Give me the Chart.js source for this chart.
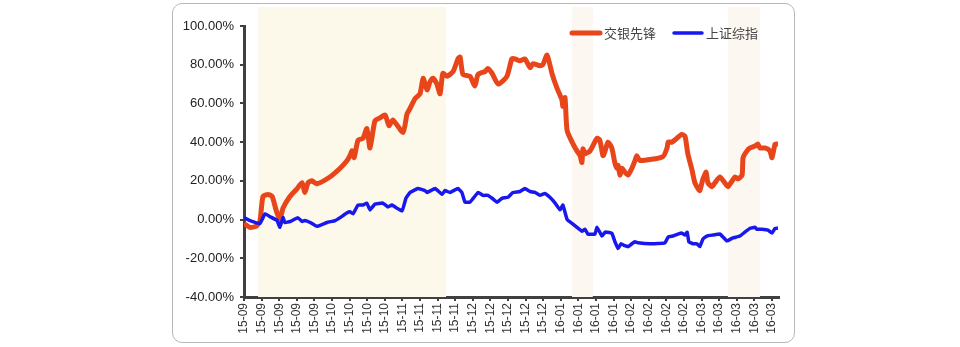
<!DOCTYPE html>
<html>
<head>
<meta charset="utf-8">
<script src="https://cdn.jsdelivr.net/npm/chart.js@4/dist/chart.umd.min.js"></script>
<style>
    html, body { margin: 0; padding: 0; background: #fff; }
    #wrap { position: relative; width: 960px; height: 347px; }
    #card {
        position: absolute; left: 172px; top: 3px; width: 621px; height: 338px;
        border: 1px solid #b8b8b8; border-radius: 10px; background: #fff;
    }
    #chart { position: absolute; left: 0; top: 0; }
</style>
</head>
<body>
<div id="wrap">
    <div id="card"></div>
    <canvas id="chart" width="960" height="347"></canvas>
</div>
<script>
// x is counted in trading days from the first day; a label every 5 days
const tickLabels = ['15-09', '15-09', '15-09', '15-09', '15-09',
    '15-10', '15-10', '15-10', '15-10',
    '15-11', '15-11', '15-11', '15-11',
    '15-12', '15-12', '15-12', '15-12', '15-12',
    '16-01', '16-01', '16-01', '16-01',
    '16-02', '16-02', '16-02', '16-02',
    '16-03', '16-03', '16-03', '16-03', '16-03']
const seriesNames = ['交银先锋', '上证综指']

const fundDays = [0, 1.7, 3.4, 4.5, 5.4, 6.8, 8.0, 9.1, 10.2, 11.1, 13.1, 15.1, 16.5, 17.3, 18.2, 19.3, 20.7, 24.4,
    27.3, 29.3, 30.1, 30.7, 31.3, 32.4, 33.8, 34.9, 35.8, 37.2, 38.6, 40.1, 41.2, 42.3, 45.2, 46.3, 47.2, 48.6,
    50.0, 50.9, 52.0, 52.8, 53.7, 54.8, 55.7, 56.5, 57.7, 59.4, 60.8, 61.4, 62.2, 64.2, 65.6, 66.5, 68.5, 69.3,
    70.5, 72.2, 74.7, 76.1, 77.0, 78.4, 79.8, 81.3, 82.1, 84.1, 84.9, 86.1, 87.5, 88.9, 90.3, 90.6, 91.2, 91.8,
    93.5, 94.6, 95.5, 96.0, 96.3, 96.9, 98.3, 100.3, 101.1, 102.0, 102.6, 103.4, 104.5, 105.4, 106.0, 106.3,
    106.8, 107.4, 108.2, 109.1, 110.2, 111.1, 111.6, 112.5, 119.0, 120.2, 120.5, 121.6, 123.0, 124.4, 125.3,
    126.1, 127.3, 128.1, 129.0, 129.5, 130.4, 131.3, 131.8, 133.0, 133.8, 135.2, 136.6, 137.5, 139.5, 140.3,
    141.5, 141.8, 142.9, 143.8, 145.2, 146.0, 146.6, 148.0, 149.4, 150.0, 150.9, 151.7]
const fundValues = [-2, -4, -3.5, -1, 12, 13, 12, 5, 0, 6, 12, 16, 19, 14, 19, 20, 18.5, 22,
    26.5, 30.5, 33, 35.5, 32, 41, 42, 47, 37, 51, 52.5, 54, 48.5, 51.5, 45, 54.5, 57.5, 62.5,
    65, 73, 67, 71, 73, 70, 65, 75.5, 74, 76.5, 83, 84, 75, 74, 69, 75, 76.5, 78,
    75.5, 70, 74, 83, 83, 82, 83, 78.5, 80.5, 79.5, 80, 85, 75.5, 68, 62, 58.5, 63, 46,
    39, 35.5, 33, 29.5, 36.5, 34, 35.5, 42, 41, 33, 35.5, 40, 37, 29, 26.5, 28,
    23, 26.5, 24.5, 23, 26.5, 30.5, 33, 30.5, 32.5, 37, 40, 40, 42, 44, 43,
    34, 25.5, 19, 16, 15, 21, 24.5, 19, 17, 19, 22, 19, 17, 22, 21,
    23, 32, 35.5, 37, 38, 39, 37, 37, 35.5, 32, 39, 39]

const indexDays = [0, 1.7, 4.5, 6.0, 7.4, 9.4, 10.2, 11.1, 11.6, 13.1, 15.3, 16.5, 17.3, 18.8, 20.7, 23.6, 25.9,
    27.3, 29.3, 30.1, 31.0, 32.4, 33.8, 34.9, 35.8, 37.2, 39.5, 40.9, 42.0, 44.9, 46.0, 47.2, 49.4, 51.4, 52.0,
    54.3, 56.3, 57.1, 58.5, 60.8, 61.9, 62.8, 64.2, 66.5, 67.9, 69.3, 70.5, 71.9, 73.3, 75.0, 76.4, 78.4, 79.8,
    81.3, 82.7, 84.1, 85.5, 86.9, 88.4, 89.8, 90.6, 91.8, 93.2, 94.6, 96.0, 96.9, 97.7, 99.7, 100.3, 101.7,
    102.6, 103.1, 104.5, 105.4, 106.3, 107.1, 108.2, 109.1, 110.2, 111.1, 111.9, 115.3, 119.6, 120.5, 121.9,
    123.3, 124.4, 125.3, 125.9, 126.4, 127.6, 128.7, 129.5, 130.4, 131.5, 133.2, 135.2, 136.1, 137.2, 138.9,
    140.9, 142.3, 143.8, 145.2, 145.7, 147.2, 148.9, 150.0, 150.9, 151.7]
const indexValues = [1, -0.5, -2, 3, 1.5, -0.5, -4, 1, -1.5, -1, 1, -1, -0.5, -1.5, -3.5, -1.5, -0.5,
    1, 3.5, 4, 3, 7.5, 7.5, 8.5, 5, 8, 8.5, 6.5, 7.5, 4.5, 11, 14, 16, 15, 14,
    16, 13, 15, 14, 16, 14, 9, 9, 14, 12.5, 12.5, 11, 9, 11, 11.5, 14, 14.5, 16,
    14.5, 14, 12.5, 13.5, 11.5, 8.5, 5, 7.5, 0, -2, -4, -6, -5, -7.5, -7.5, -4, -8.5,
    -6.5, -6.5, -7, -11.5, -15, -12.5, -13.5, -14, -12.5, -11.5, -12, -12.5, -12, -9, -8.5,
    -7.5, -7, -8, -6.5, -11.5, -12.5, -12.5, -14, -10, -8.5, -8, -7.5, -9, -11, -9.5,
    -8.5, -6.5, -4.5, -4, -5, -5, -5.5, -7, -4.5, -4.5]

// shaded periods, in trading days
const bandStart = [4, 93.2, 137.5]
const bandEnd = [57.4, 99.1, 146.6]
const bandColors = ['#fcf8ea', '#fdf7f1', '#fdf7f1']

function toPoints(xs, ys) {
    return xs.map((x, i) => ({ x: x, y: ys[i] }))
}

const bandsPlugin = {
    id: 'bands',
    beforeDatasetsDraw(chart) {
        const ctx = chart.ctx
        const x = chart.scales.x
        const area = chart.chartArea
        ctx.save()
        bandStart.forEach((s, i) => {
            const left = x.getPixelForValue(s)
            const right = x.getPixelForValue(bandEnd[i])
            ctx.fillStyle = bandColors[i]
            ctx.fillRect(left, area.top - 19, right - left, area.bottom - area.top + 19)
        })
        ctx.restore()
    }
}

const legendPlugin = {
    id: 'lineLegend',
    afterDraw(chart) {
        const ctx = chart.ctx
        let x = chart.chartArea.right - 209
        const y = chart.chartArea.top + 7
        ctx.save()
        ctx.font = '13px "Noto Sans CJK SC"'
        ctx.textBaseline = 'middle'
        chart.data.datasets.forEach(ds => {
            ctx.strokeStyle = ds.borderColor
            ctx.lineWidth = ds.borderWidth
            ctx.lineCap = 'round'
            ctx.beginPath()
            ctx.moveTo(x + 2, y)
            ctx.lineTo(x + 30, y)
            ctx.stroke()
            ctx.fillStyle = '#444'
            ctx.fillText(ds.label, x + 34, y)
            x += 34 + ctx.measureText(ds.label).width + 16
        })
        ctx.restore()
    }
}

new Chart(document.getElementById('chart'), {
    type: 'line',
    data: {
        datasets: [{
            label: seriesNames[0],
            data: toPoints(fundDays, fundValues),
            borderColor: '#e8461a',
            borderWidth: 5,
            tension: 0.2,
            pointRadius: 0,
            order: 1
        }, {
            label: seriesNames[1],
            data: toPoints(indexDays, indexValues),
            borderColor: '#1818ee',
            borderWidth: 3.5,
            tension: 0.1,
            pointRadius: 0,
            order: 0
        }]
    },
    options: {
        responsive: false,
        animation: false,
        layout: { padding: { left: 172, right: 181, top: 26, bottom: 2 } },
        plugins: {
            legend: { display: false },
            tooltip: { enabled: false }
        },
        scales: {
            x: {
                type: 'linear',
                min: 0,
                max: 152,
                afterBuildTicks: scale => {
                    scale.ticks = tickLabels.map((l, i) => ({ value: i * 5 }))
                },
                afterFit: scale => { scale.height = 48 },
                ticks: {
                    autoSkip: false,
                    minRotation: 90,
                    maxRotation: 90,
                    padding: 2,
                    color: '#333',
                    font: { family: '"Liberation Sans", Arial', size: 12 },
                    callback: (v, i) => tickLabels[i]
                },
                grid: { drawOnChartArea: false, drawTicks: true, tickLength: 4, color: '#404040', lineWidth: 2 },
                border: { display: true, color: '#404040', width: 3 }
            },
            y: {
                min: -40,
                max: 100,
                afterFit: scale => { scale.width = 72 },
                ticks: {
                    stepSize: 20,
                    padding: 6,
                    color: '#222',
                    font: { family: '"Liberation Sans", Arial', size: 13 },
                    callback: v => v.toFixed(2) + '%'
                },
                grid: { drawOnChartArea: false, drawTicks: true, tickLength: 4, color: '#404040', lineWidth: 2 },
                border: { display: true, color: '#404040', width: 3 }
            }
        }
    },
    plugins: [bandsPlugin, legendPlugin]
})
</script>
</body>
</html>
